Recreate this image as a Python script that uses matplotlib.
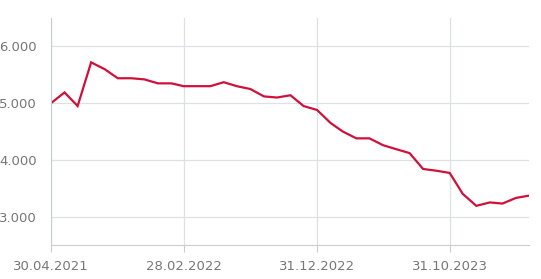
import matplotlib
matplotlib.use("Agg")
import matplotlib.pyplot as plt
import matplotlib.dates as mdates
import pandas as pd

# month-end dates, Apr 2021 .. Apr 2024
dates = pd.date_range("2021-04-30", periods=37, freq="ME")
values = [
    5000, 5190, 4950, 5720, 5600, 5440, 5440, 5420, 5350, 5350,
    5300, 5300, 5300, 5370, 5300, 5250, 5120, 5100, 5140, 4950,
    4880, 4650, 4500, 4380, 4380, 4260, 4190, 4120, 3840, 3810,
    3770, 3400, 3190, 3250, 3230, 3330, 3370,
]
tick_dates = pd.to_datetime(["2021-04-30", "2022-02-28", "2022-12-31", "2023-10-31"])
y_ticks = [3000, 4000, 5000, 6000]
y_labels = ["3.000", "4.000", "5.000", "6.000"]

fig = plt.figure(figsize=(5.41, 2.79), dpi=100)
ax = fig.add_axes([0.0943, 0.122, 0.8837, 0.813])

ax.plot(dates, values, color="#d0103a", lw=1.6, solid_joinstyle="miter")

ax.set_xlim(dates[0], dates[-1])
ax.set_ylim(2500, 6500)

ax.set_xticks(tick_dates)
ax.set_xticklabels([d.strftime("%d.%m.%Y") for d in tick_dates])
ax.set_yticks(y_ticks)
ax.set_yticklabels(y_labels)

grid_col = "#dde1e4"
ax.grid(True, color=grid_col, lw=0.9)
ax.set_axisbelow(True)
for s in ["top", "right"]:
    ax.spines[s].set_visible(False)
ax.spines["left"].set_color("#c8cdd1")
ax.spines["bottom"].set_color("#c8cdd1")
ax.tick_params(axis="y", length=0, pad=10, labelsize=9.5, labelcolor="#777777")
ax.tick_params(axis="x", length=5, color="#c8cdd1", pad=6, labelsize=9.5,
               labelcolor="#777777")

fig.savefig("out.png", dpi=100)
